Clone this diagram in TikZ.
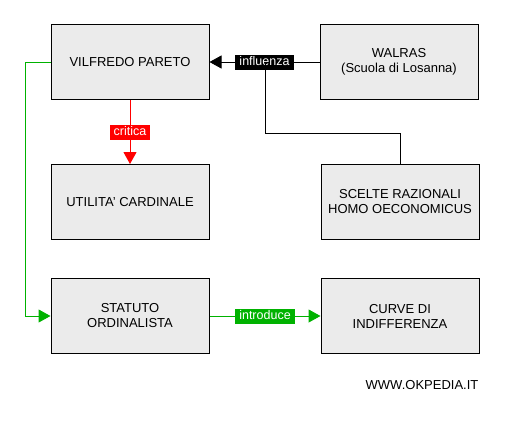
\documentclass[tikz,border=0pt]{standalone}
\usepackage{fontspec}
\setmainfont{Liberation Sans}
\usetikzlibrary{arrows.meta}
\definecolor{boxgray}{RGB}{235,235,235}
\definecolor{okgreen}{RGB}{0,178,0}
\tikzstyle{block}=[draw,line width=1pt,fill=boxgray,minimum width=158pt,minimum height=75pt,align=center,font=\fontsize{13}{15}\selectfont,inner sep=0pt]
\tikzstyle{edge} = [draw,line width=1pt,-]
\tikzstyle{arrow} = [edge,-{Triangle[length=12pt,width=13pt]}]
\tikzstyle{weight} = [text=white,inner xsep=4pt,inner ysep=1.5pt,text height=9.5pt,text depth=2.5pt,font=\fontsize{12.5}{14}\selectfont]

\begin{document}
\begin{tikzpicture}[x=1pt, y=-1pt]
    \useasboundingbox (0,0) rectangle (526,421);
    % First we draw the boxes
    \foreach \pos/\name/\txt in {{(130,62)/pareto/VILFREDO PARETO}, {(399,62)/walras/{WALRAS\\(Scuola di Losanna)}},
        {(130,202)/utilita/UTILITA' CARDINALE}, {(400,202)/scelte/{SCELTE RAZIONALI\\HOMO OECONOMICUS}},
        {(130,316)/statuto/{STATUTO\\ORDINALISTA}}, {(400,316)/curve/{CURVE DI\\INDIFFERENZA}}}
        \node[block] (\name) at \pos {\txt};
    \node[font=\fontsize{13}{15}\selectfont] (site) at (422,385) {WWW.OKPEDIA.IT};
    % Connect boxes with arrows and draw labels
    \coordinate (infl) at (265,62);
    \path[arrow] (walras) -- node[weight,fill=black] {influenza} (pareto);
    \path[edge] (scelte.north) -- ++(0,-31) -| (infl);
    \path[arrow,red] (pareto) -- node[weight,fill=red] {critica} (utilita);
    \path[arrow,okgreen] (pareto.west) -- ++(-25,0) |- (statuto.west);
    \path[arrow,okgreen] (statuto) -- node[weight,fill=okgreen] {introduce} (curve);
\end{tikzpicture}
\end{document}
